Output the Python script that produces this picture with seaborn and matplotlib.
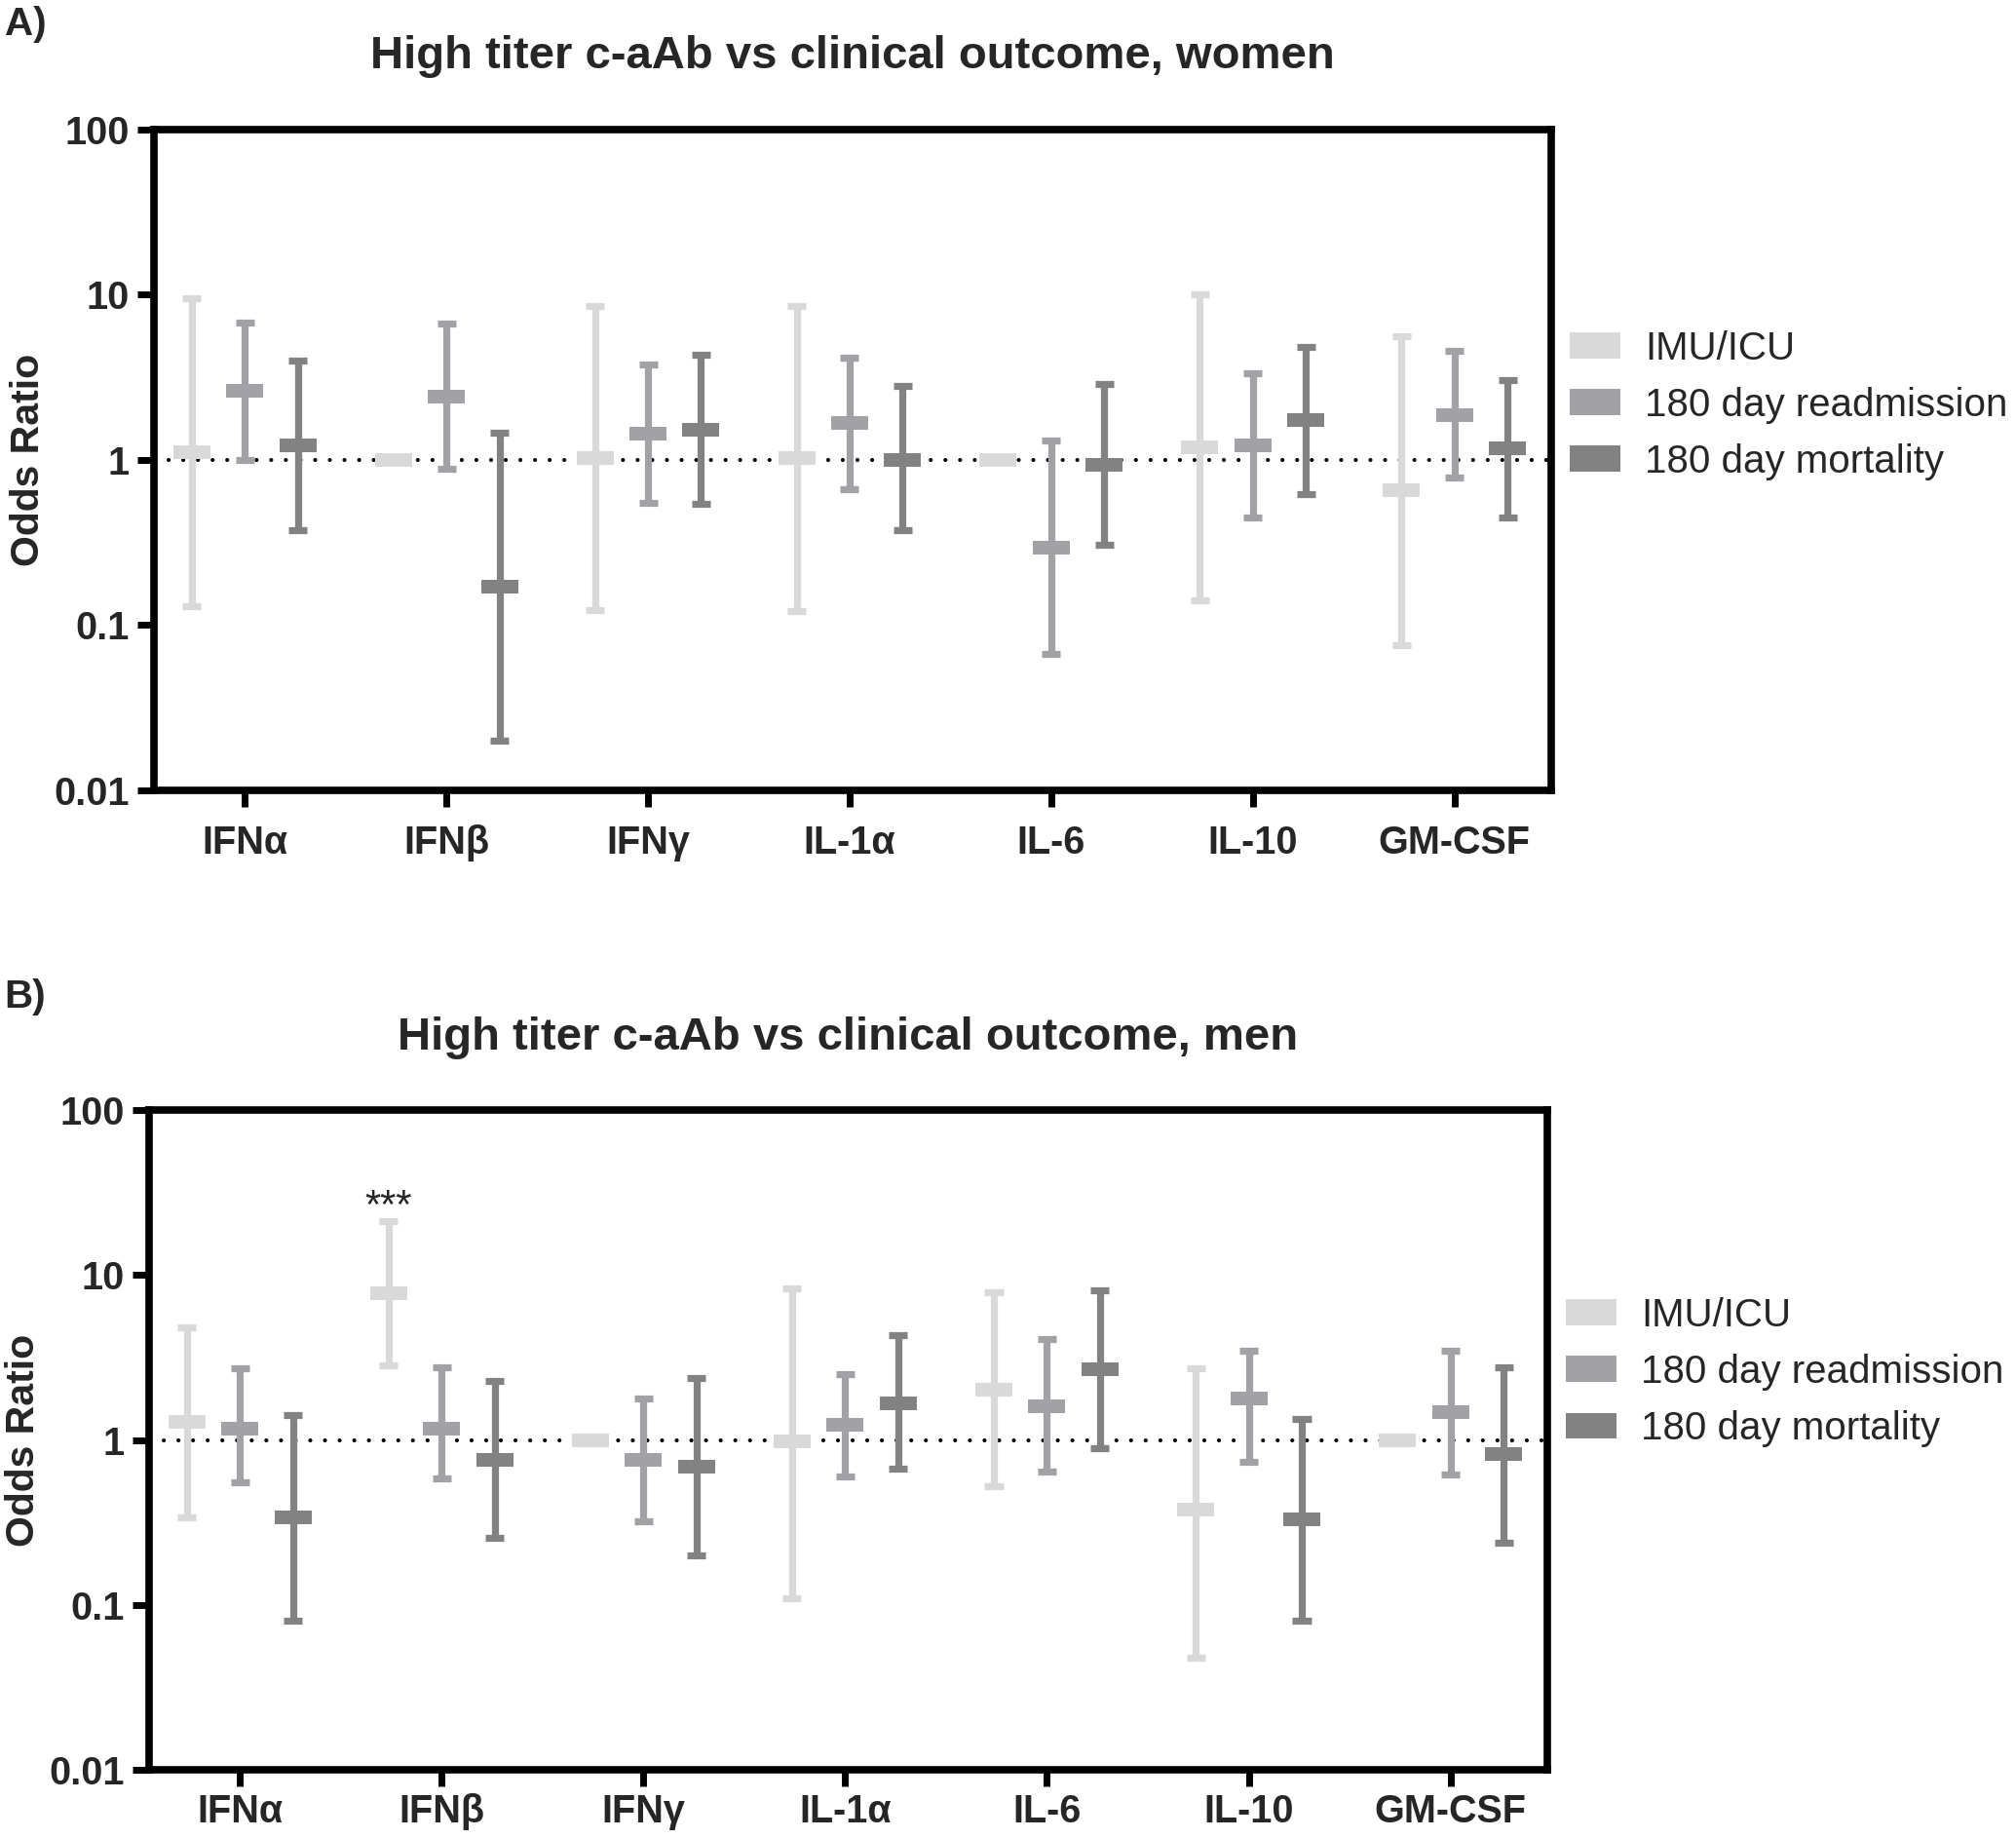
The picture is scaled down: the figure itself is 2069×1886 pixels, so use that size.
import numpy as np
import pandas as pd
import seaborn as sns
import matplotlib.pyplot as plt
from matplotlib.path import Path
from matplotlib.patches import Patch
from matplotlib.ticker import NullLocator

nan = np.nan

cytokines = ["IFNα", "IFNβ", "IFNγ", "IL-1α", "IL-6", "IL-10", "GM-CSF"]
outcomes = ["IMU/ICU", "180 day readmission", "180 day mortality"]
colors = ["#d9d9d9", "#a2a2a6", "#828282"]

# odds ratio with 95% CI, one row per outcome (nan = no CI shown)
women_or = [
    [1.11, 1.00, 1.03, 1.03, 1.00, 1.20, 0.66],
    [2.61, 2.43, 1.45, 1.67, 0.296, 1.22, 1.88],
    [1.22, 0.171, 1.52, 1.00, 0.93, 1.75, 1.18],
]
women_lo = [
    [0.13, nan, 0.124, 0.122, nan, 0.141, 0.076],
    [1.00, 0.88, 0.553, 0.667, 0.0667, 0.448, 0.779],
    [0.377, 0.020, 0.544, 0.377, 0.308, 0.621, 0.448],
]
women_hi = [
    [9.5, nan, 8.6, 8.6, nan, 10.1, 5.61],
    [6.8, 6.66, 3.77, 4.17, 1.32, 3.33, 4.58],
    [4.0, 1.47, 4.34, 2.80, 2.87, 4.84, 3.05],
]

men_or = [
    [1.29, 7.77, 1.00, 0.977, 2.01, 0.377, 1.00],
    [1.18, 1.17, 0.759, 1.24, 1.60, 1.79, 1.48],
    [0.341, 0.759, 0.692, 1.67, 2.67, 0.331, 0.826],
]
men_lo = [
    [0.341, 2.82, nan, 0.110, 0.525, 0.048, nan],
    [0.554, 0.584, 0.324, 0.603, 0.641, 0.736, 0.621],
    [0.080, 0.257, 0.201, 0.671, 0.891, 0.0807, 0.240],
]
men_hi = [
    [4.82, 21.2, nan, 8.32, 7.82, 2.71, nan],
    [2.73, 2.77, 1.79, 2.51, 4.07, 3.49, 3.49],
    [1.41, 2.27, 2.38, 4.30, 8.13, 1.34, 2.77],
]

DODGE = 0.526


def to_long(or_vals, lo_vals, hi_vals):
    """lo / estimate / hi as three rows per group -> median + min/max in pointplot"""
    rows = []
    for k, outcome in enumerate(outcomes):
        for i, cyt in enumerate(cytokines):
            est = or_vals[k][i]
            lo = est if np.isnan(lo_vals[k][i]) else lo_vals[k][i]
            hi = est if np.isnan(hi_vals[k][i]) else hi_vals[k][i]
            for v in (lo, est, hi):
                rows.append({"cytokine": cyt, "outcome": outcome, "odds": v})
    return pd.DataFrame(rows)


bar = Path([(-1, -0.38), (1, -0.38), (1, 0.38), (-1, 0.38), (-1, -0.38)], closed=True)


def draw_panel(ax, df, title, legend_y, xpad):
    sns.pointplot(data=df, x="cytokine", y="odds", hue="outcome",
                  order=cytokines, hue_order=outcomes, palette=colors,
                  estimator="median", errorbar=lambda v: (v.min(), v.max()),
                  dodge=DODGE, linestyle="none", marker=bar,
                  markersize=27, markeredgewidth=0, capsize=0.092,
                  err_kws={"linewidth": 5.2, "solid_capstyle": "butt"},
                  log_scale=True, legend=False, ax=ax)
    ax.axhline(1, color="black", lw=3.0, ls=(0, (0.01, 3.6)),
               dash_capstyle="round", zorder=1)

    ax.set_ylim(0.01, 100)
    ax.set_xlim(-0.45, 6.48)
    ax.set_yticks([0.01, 0.1, 1, 10, 100], labels=["0.01", "0.1", "1", "10", "100"])
    ax.yaxis.set_minor_locator(NullLocator())
    ax.tick_params(axis="both", which="major", direction="out", length=12,
                   width=5, labelsize=28.5, color="black")
    ax.tick_params(axis="x", pad=xpad)
    ax.tick_params(axis="y", pad=6)
    for t in ax.get_xticklabels() + ax.get_yticklabels():
        t.set_fontweight("bold")
    for sp in ax.spines.values():
        sp.set_linewidth(5.5)
        sp.set_color("black")
        sp.set_visible(True)

    ax.set_xlabel("")
    ax.set_ylabel("Odds Ratio", fontsize=29.5, fontweight="bold")
    ax.yaxis.set_label_coords(-0.077, 0.5)
    ax.set_title(title, fontsize=34, fontweight="bold", pad=45)

    handles = [Patch(facecolor=c, edgecolor="none") for c in colors]
    ax.legend(handles, outcomes, loc="center left", bbox_to_anchor=(1.013, legend_y),
              frameon=False, fontsize=29, handlelength=1.3, handleheight=0.64,
              handletextpad=0.62, labelspacing=0.5, borderpad=0, borderaxespad=0)


sns.set_style("ticks")
plt.rcParams["font.family"] = ["Liberation Sans", "DejaVu Sans"]

fig = plt.figure(figsize=(20.69, 18.86), dpi=100)
ax_a = fig.add_axes([0.0764, 0.570, 0.6931, 0.3595])
ax_b = fig.add_axes([0.074, 0.037, 0.6935, 0.359])

draw_panel(ax_a, to_long(women_or, women_lo, women_hi),
           "High titer c-aAb vs clinical outcome, women", 0.583, 13)
draw_panel(ax_b, to_long(men_or, men_lo, men_hi),
           "High titer c-aAb vs clinical outcome, men", 0.603, 5)

# significance mark over IFNβ IMU/ICU in men
offsets = np.linspace(-DODGE / 2, DODGE / 2, len(outcomes))
ax_b.text(1 + offsets[0], men_hi[0][1] * 1.22, "***", ha="center", va="center",
          fontsize=30)

fig.text(0.0125, 0.987, "A)", fontsize=29, fontweight="bold", ha="center", va="center")
fig.text(0.0125, 0.4576, "B)", fontsize=29, fontweight="bold", ha="center", va="center")

fig.savefig("out.png", dpi=100)
